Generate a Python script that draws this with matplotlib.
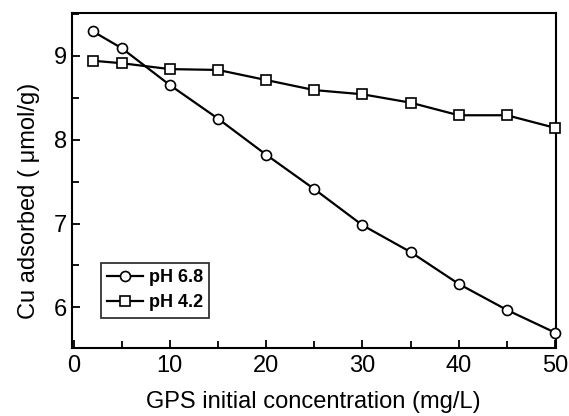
import matplotlib
matplotlib.use("Agg")
import matplotlib.pyplot as plt
from matplotlib.ticker import MultipleLocator

# data
conc = [2, 5, 10, 15, 20, 25, 30, 35, 40, 45, 50]
cu_ph68 = [9.29, 9.09, 8.65, 8.25, 7.82, 7.41, 6.98, 6.66, 6.28, 5.97, 5.70]
cu_ph42 = [8.94, 8.91, 8.84, 8.83, 8.71, 8.59, 8.54, 8.44, 8.29, 8.29, 8.14]

plt.rcParams['font.family'] = ['Liberation Sans', 'DejaVu Sans']

fig = plt.figure(figsize=(5.69, 4.16), dpi=100)
ax = fig.add_axes([71.6/569, 1 - 347.7/416, (556 - 71.6)/569, (347.7 - 13.3)/416])

ax.plot(conc, cu_ph68, '-o', color='black', lw=1.6, ms=7.2,
        mfc='white', mec='black', mew=1.2, label='pH 6.8', clip_on=False, zorder=3)
ax.plot(conc, cu_ph42, '-s', color='black', lw=1.6, ms=7,
        mfc='white', mec='black', mew=1.2, label='pH 4.2', clip_on=False, zorder=3)

ax.set_xlim(-0.2, 50.1)
ax.set_ylim(5.52, 9.505)
ax.xaxis.set_major_locator(MultipleLocator(10))
ax.xaxis.set_minor_locator(MultipleLocator(5))
ax.yaxis.set_major_locator(MultipleLocator(1))
ax.yaxis.set_minor_locator(MultipleLocator(0.5))
ax.tick_params(which='both', direction='in', width=1.3, labelsize=17)
ax.tick_params(axis='x', pad=5)
ax.tick_params(axis='y', pad=3)
ax.tick_params(which='major', length=5.5)
ax.tick_params(which='minor', length=5)
ax.set_yticks([6, 7, 8, 9])
for s in ax.spines.values():
    s.set_linewidth(1.5)

ax.set_xlabel('GPS initial concentration (mg/L)', fontsize=17, labelpad=10)
ax.set_ylabel('Cu adsorbed ( \u03bcmol/g)', fontsize=17)
ax.yaxis.set_label_coords(-0.066, 0.44)

leg = ax.legend(loc='lower left', bbox_to_anchor=(0.06, 0.09), frameon=True,
                fancybox=False, edgecolor='black', handlelength=2.0,
                handletextpad=0.3, borderpad=0.35, labelspacing=0.45,
                borderaxespad=0, prop={'size': 13, 'weight': 'bold'})
leg.get_frame().set_linewidth(1.3)

fig.savefig('out.png', dpi=100)
